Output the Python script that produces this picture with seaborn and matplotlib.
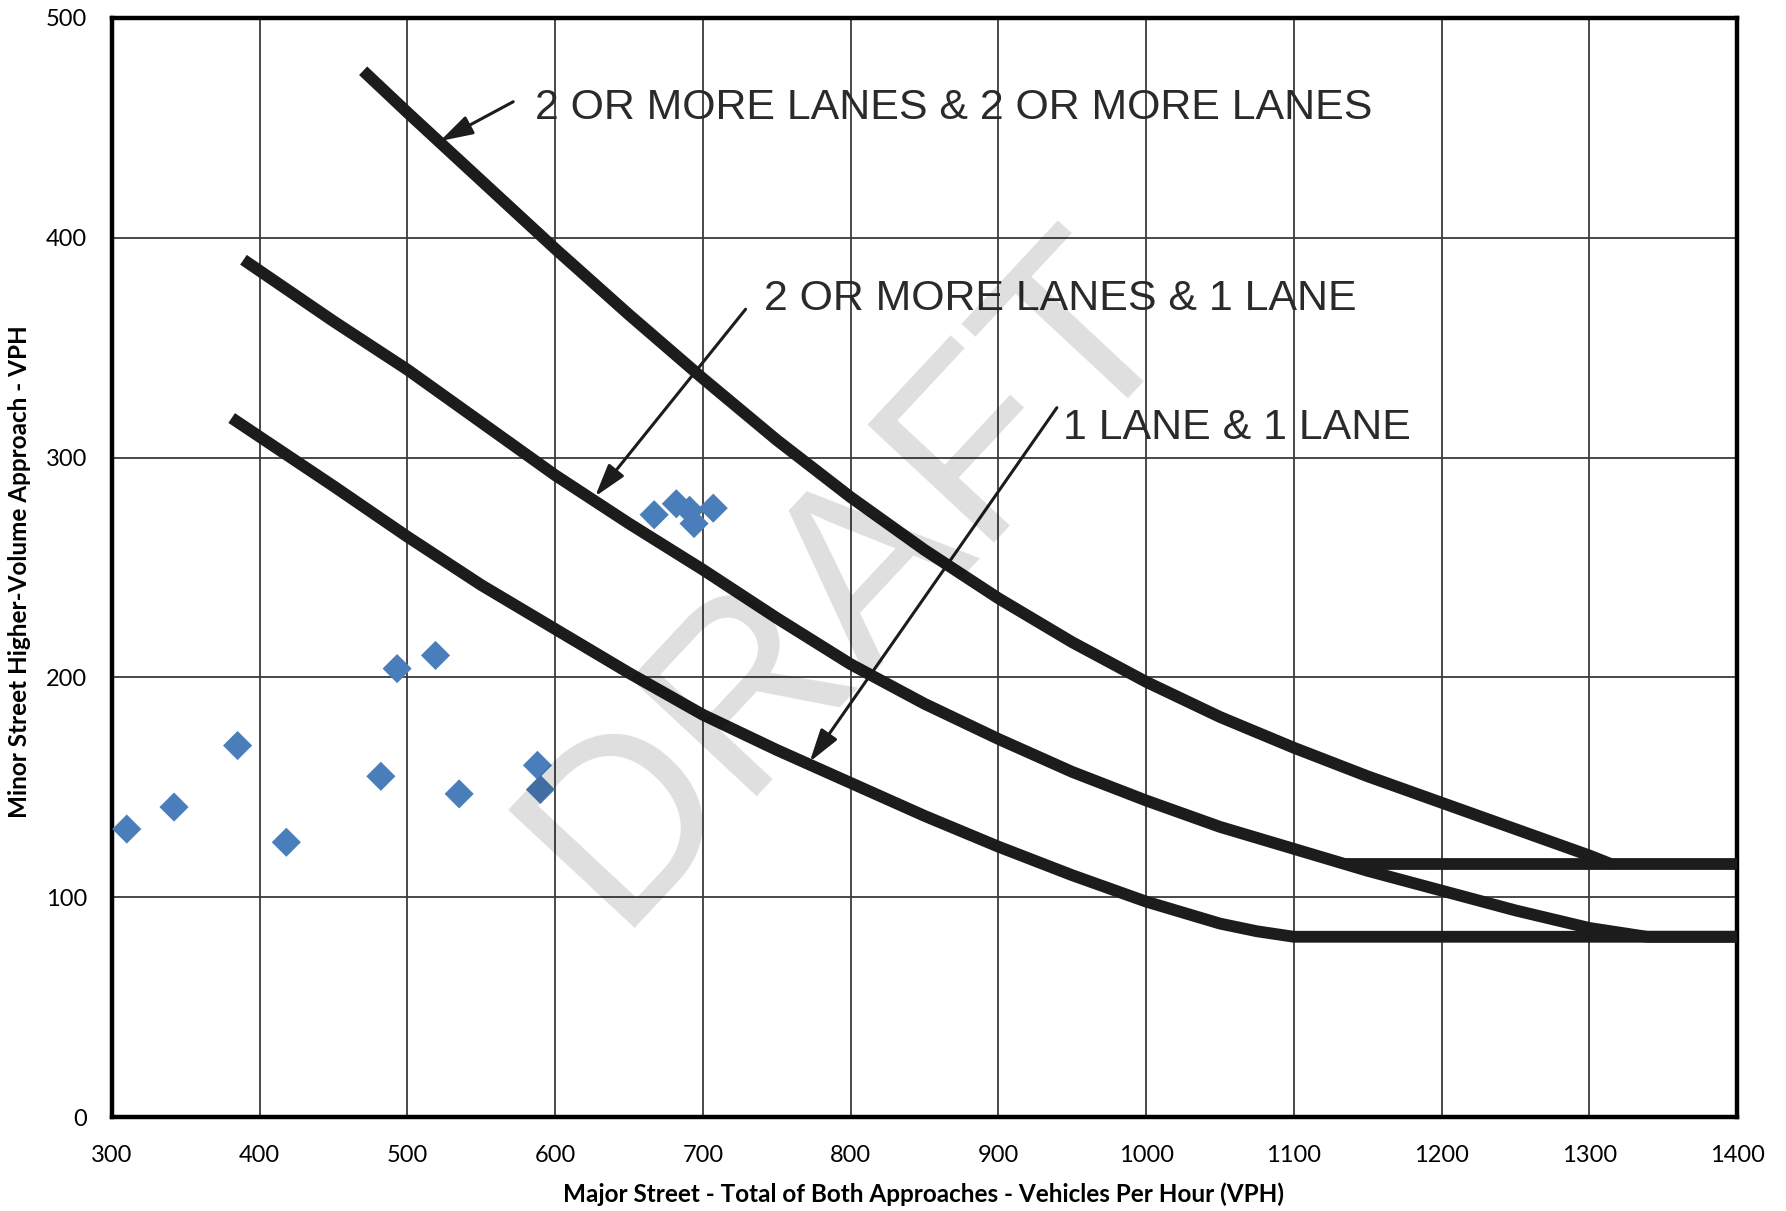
import matplotlib
matplotlib.use("Agg")
import matplotlib.pyplot as plt
import pandas as pd
import seaborn as sns

# ---- data ----
# Warrant curves (Major street total VPH vs minor street higher-volume approach VPH)
curve_2p2p_x = [470, 500, 550, 600, 650, 700, 750, 800, 850, 900, 950, 1000, 1050,
                1100, 1150, 1200, 1250, 1300, 1315]
curve_2p2p_y = [476, 457, 426, 395, 365, 336, 308, 282, 258, 236, 216, 198, 182,
                168, 155, 143, 131, 119, 115]
curve_2p1_x = [389, 450, 500, 550, 600, 650, 700, 750, 800, 850, 900, 950, 1000, 1050,
               1100, 1150, 1200, 1250, 1300, 1339, 1400]
curve_2p1_y = [390, 362, 340, 316, 292, 270, 249, 227, 206, 188, 172, 157, 144, 132,
               122, 112, 103, 94, 86, 82, 82]
curve_11_x = [381, 450, 500, 550, 600, 650, 700, 750, 800, 850, 900, 950, 1000, 1050,
              1075, 1100, 1400]
curve_11_y = [318, 287, 264, 242, 222, 202, 183, 167, 152, 137, 123, 110, 98, 88,
              84.5, 82, 82]
floor_115_x = [1135, 1400]
floor_115_y = [115, 115]

# observed hourly volumes (blue diamonds)
obs_x = [310, 342, 385, 418, 482, 493, 519, 535, 588, 590, 667, 682, 691, 694, 707]
obs_y = [131, 141, 169, 125, 155, 204, 210, 147, 160, 149, 274, 279, 276, 270, 277]

# curve labels and their arrows: (text, text x, baseline y, arrow tail, arrow head)
label_texts = ["2 OR MORE LANES & 2 OR MORE LANES", "2 OR MORE LANES & 1 LANE", "1 LANE & 1 LANE"]
label_x = [586.6, 741.5, 943.5]
label_y = [454, 367, 308.5]
arrow_tail = [(571.6, 461.9), (728.9, 367.5), (939.6, 322.7)]
arrow_head = [(522.0, 444.0), (627.0, 282.3), (772.3, 161.6)]

x_ticks = [300, 400, 500, 600, 700, 800, 900, 1000, 1100, 1200, 1300, 1400]
y_ticks = [0, 100, 200, 300, 400, 500]
x_title = "Major Street - Total of Both Approaches - Vehicles Per Hour (VPH)"
y_title = "Minor Street Higher-Volume Approach - VPH"
watermark = "DRAFT"

# ---- styling ----
sns.set_theme(style="white")
plt.rcParams["font.family"] = ["Lato", "DejaVu Sans"]

W, H = 1786, 1211
fig = plt.figure(figsize=(W / 100, H / 100), dpi=100)
L, R, T, B = 112, 1737, 18, 1117
ax = fig.add_axes([L / W, 1 - B / H, (R - L) / W, (B - T) / H])

ax.set_xlim(300, 1400)
ax.set_ylim(0, 500)
ax.set_xticks(x_ticks)
ax.set_yticks(y_ticks)
ax.grid(True, color="#3a3a3a", linewidth=1.3)
ax.set_axisbelow(True)
for s in ax.spines.values():
    s.set_visible(True)
    s.set_color("black")
    s.set_linewidth(3.2)
ax.tick_params(axis="both", length=0, labelsize=17, colors="black")
ax.tick_params(axis="y", pad=18)
ax.tick_params(axis="x", pad=20)

line_kw = dict(color="#1c1c1c", linewidth=8.5, solid_capstyle="butt",
               solid_joinstyle="round", sort=False, estimator=None, zorder=3)
for xs, ys in [(curve_2p2p_x, curve_2p2p_y), (curve_2p1_x, curve_2p1_y),
               (curve_11_x, curve_11_y), (floor_115_x, floor_115_y)]:
    sns.lineplot(data=pd.DataFrame({"x": xs, "y": ys}), x="x", y="y", ax=ax, **line_kw)

sns.scatterplot(data=pd.DataFrame({"x": obs_x, "y": obs_y}), x="x", y="y", ax=ax,
                marker="D", s=220, color="#4a7ebb", edgecolor="none", zorder=5)

for txt, tx, ty, tail, head in zip(label_texts, label_x, label_y, arrow_tail, arrow_head):
    ax.text(tx, ty, txt, ha="left", va="baseline", fontsize=30.9, color="#2a2a2a",
            family=["Liberation Sans", "DejaVu Sans"], zorder=6)
    ax.annotate("", xy=head, xytext=tail,
                arrowprops=dict(arrowstyle="-|>,head_length=1.0,head_width=0.3",
                                mutation_scale=20, lw=2.2, color="#1c1c1c",
                                shrinkA=0, shrinkB=0), zorder=6)

ax.text(800, 245, watermark, fontsize=180, rotation=47, rotation_mode="anchor",
        ha="center", va="center", color="black", alpha=0.13,
        family=["Liberation Sans", "DejaVu Sans"], zorder=10)

ax.set_xlabel(x_title, fontsize=17.5, fontweight="bold", color="black")
ax.set_ylabel(y_title, fontsize=17.5, fontweight="bold", color="black")
ax.xaxis.set_label_coords((923.5 - L) / (R - L), (B - 1194) / (B - T))
ax.xaxis.label.set_va("center")
ax.yaxis.set_label_coords((20 - L) / (R - L), (B - 572) / (B - T))
ax.yaxis.label.set_va("center")

fig.savefig("out.png", dpi=100, facecolor="white")
